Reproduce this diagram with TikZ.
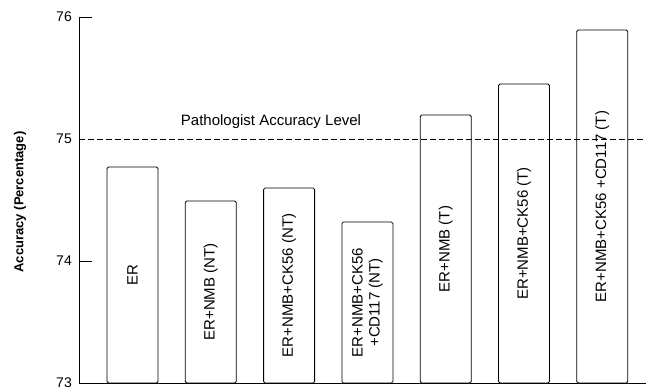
\documentclass[tikz,border=0pt]{standalone}
\usepackage{fontspec}
\setmainfont{Liberation Sans}
\usetikzlibrary{positioning}

\tikzset{
  bar/.style={draw, line width=0.8pt, rounded corners=1.5pt, rotate=90, inner sep=0pt,
    minimum height=51pt, align=center, font=\fontsize{15}{17}\selectfont},
  ticklabel/.style={left, inner sep=1pt, font=\fontsize{14}{16}\selectfont},
  axis/.style={line width=0.8pt}
}

\begin{document}
\begin{tikzpicture}[x=1pt, y=1pt]
\useasboundingbox (-79,-4) rectangle (567,383);

% axes
\coordinate (origin) at (0,0);
\coordinate (top) at (0,366);
\coordinate (right end) at (567,0);
\draw[axis] (top) -- (origin) -- (right end);
\draw[axis] (top) -- (13,366);
\draw[axis] (0,122) -- (13,122);

\node[ticklabel] (tick 73) at (-6,0) {73};
\node[ticklabel] (tick 74) at (-6,122) {74};
\node[ticklabel] (tick 75) at (-6,244) {75};
\node[ticklabel] (tick 76) at (-6,366) {76};
\node[rotate=90, font=\fontsize{13}{15}\selectfont\bfseries] (ylabel) at (-59,181) {Accuracy (Percentage)};

% bars
\node[bar, minimum width=216pt] (ER) at (53.5,108) {ER};
\node[bar, minimum width=182pt] (NMB NT) at (131.8,91) {ER+NMB (NT)};
\node[bar, minimum width=195pt] (CK56 NT) at (210.1,97.5) {ER+NMB+CK56 (NT)};
\node[bar, minimum width=161pt] (CD117 NT) at (288.4,80.5) {ER+NMB+CK56\\+CD117 (NT)};
\node[bar, minimum width=268pt] (NMB T) at (366.7,134) {ER+NMB (T)};
\node[bar, minimum width=299pt] (CK56 T) at (445,149.5) {ER+NMB+CK56 (T)};
\node[bar, minimum width=353pt] (CD117 T) at (523.3,176.5) {ER+NMB+CK56 +CD117 (T)};

% pathologist level
\coordinate (level end) at (567,244);
\draw[axis, dash pattern=on 6pt off 3pt] (0,244) -- (level end);
\node[font=\fontsize{15}{17}\selectfont] (level) at (192,261) {Pathologist Accuracy Level};
\end{tikzpicture}
\end{document}
